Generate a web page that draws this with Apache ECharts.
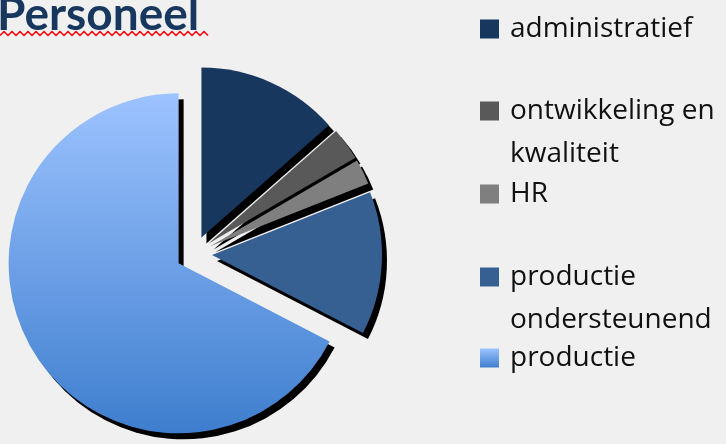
<!DOCTYPE html>
<html>
<head>
<meta charset="utf-8">
<script src="https://cdn.jsdelivr.net/npm/echarts@6/dist/echarts.min.js"></script>
<style>
  html, body { margin: 0; padding: 0; background: #F0F0F0; }
  #chart { width: 726px; height: 444px; }
</style>
</head>
<body>
<div id="chart"></div>
<script>
// Staff breakdown by department (share of headcount, %)
const categories = ['administratief', 'ontwikkeling en kwaliteit', 'HR', 'productie ondersteunend', 'productie'];
const values = [13.5, 3.1, 2.4, 13.6, 67.4];
// Legend text, wrapped as displayed
const legendLines = [
  ['administratief'],
  ['ontwikkeling en', 'kwaliteit'],
  ['HR'],
  ['productie', 'ondersteunend'],
  ['productie']
];

const LEGEND_FONT = 'Open Sans';
const TITLE_FONT = 'Lato';
const LH = 43;
const iconCenters = [29, 111, 194, 277, 358];

const colors = [
  '#17375E',
  '#595959',
  '#7F7F7F',
  '#376092',
  new echarts.graphic.LinearGradient(0, 0, 0, 1, [
    { offset: 0, color: '#9DC3FF' },
    { offset: 1, color: '#3E7ECE' }
  ])
];

// One legend block per category so every icon sits beside the first line of its label.
// Leading blank lines keep the first text line centred on the icon.
const legends = categories.map((name, i) => {
  const n = legendLines[i].length;
  const text = new Array(n - 1).fill(' ').concat(legendLines[i]).join('\n');
  const boxH = LH * (2 * n - 1);
  return {
    data: [name],
    orient: 'vertical',
    left: 480,
    top: iconCenters[i] - boxH / 2,
    padding: 0,
    itemWidth: 19,
    itemHeight: 19,
    selectedMode: false,
    icon: 'rect',
    itemStyle: { borderWidth: 0, shadowBlur: 0, shadowOffsetX: 0, shadowOffsetY: 0, shadowColor: 'transparent' },
    formatter: () => text,
    textStyle: {
      fontFamily: LEGEND_FONT,
      fontSize: 28,
      color: '#111111',
      lineHeight: LH,
      padding: [0, 0, 0, 6]
    }
  };
});

// Red wavy underline under the heading
const wave = [];
for (let x = 0; x <= 208; x += 4) {
  wave.push([x, (x / 4) % 2 === 0 ? 35.5 : 31.5]);
}

const chart = echarts.init(document.getElementById('chart'), null, { renderer: 'canvas' });
chart.setOption({
  animation: false,
  backgroundColor: '#F0F0F0',
  title: {
    text: 'Personeel',
    left: -3,
    top: -8,
    padding: 0,
    textStyle: { fontFamily: TITLE_FONT, fontWeight: 'bold', fontSize: 46, color: '#17375E' }
  },
  legend: legends,
  graphic: [{
    type: 'polyline',
    shape: { points: wave },
    style: { stroke: '#FF0000', lineWidth: 1.5, fill: null }
  }],
  series: [{
    type: 'pie',
    center: [194, 254],
    radius: 170,
    startAngle: 90,
    clockwise: true,
    selectedMode: 'multiple',
    selectedOffset: 18,
    avoidLabelOverlap: false,
    label: { show: false },
    labelLine: { show: false },
    emphasis: { disabled: true },
    itemStyle: { shadowColor: '#000', shadowBlur: 0, shadowOffsetX: 5, shadowOffsetY: 6, borderWidth: 0 },
    select: { itemStyle: { shadowColor: '#000', shadowBlur: 0, shadowOffsetX: 5, shadowOffsetY: 6, borderWidth: 0 } },
    data: categories.map((name, i) => ({
      name,
      value: values[i],
      selected: true,
      itemStyle: { color: colors[i] }
    }))
  }]
});
</script>
</body>
</html>
